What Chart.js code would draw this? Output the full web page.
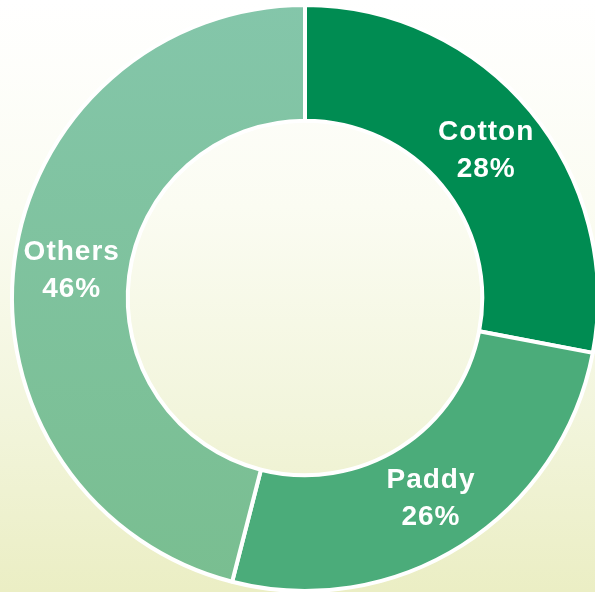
<!DOCTYPE html>
<html>
<head>
<meta charset="utf-8">
<script src="https://cdn.jsdelivr.net/npm/chart.js@4.4.1/dist/chart.umd.min.js"></script>
<style>
  html, body { margin: 0; padding: 0; }
  body {
    width: 595px; height: 592px; overflow: hidden;
    background: linear-gradient(180deg, #ffffff 0%, #fbfcf2 35%, #f2f5dc 70%, #ebeec4 100%);
  }
  #wrap { position: relative; width: 595px; height: 592px; }
</style>
</head>
<body>
<div id="wrap"><canvas id="chart"></canvas></div>
<script>
// crop share of the total, in percent
const crops = ['Cotton', 'Paddy', 'Others'];
const shares = [28, 26, 46];
const sliceColors = ['#008c52', '#4bac7a', null]; // Others gets a gradient

// white two-line labels drawn at each arc's centre
const sliceLabels = {
  id: 'sliceLabels',
  afterDatasetsDraw(chart) {
    const ctx = chart.ctx;
    const meta = chart.getDatasetMeta(0);
    ctx.save();
    ctx.fillStyle = '#ffffff';
    ctx.font = 'bold 28px "Liberation Sans", Arial, sans-serif';
    ctx.letterSpacing = '1px';
    ctx.textAlign = 'center';
    ctx.textBaseline = 'middle';
    meta.data.forEach((arc, i) => {
      const p = arc.tooltipPosition();
      ctx.fillText(crops[i], p.x, p.y - 16);
      ctx.fillText(shares[i] + '%', p.x, p.y + 21);
    });
    ctx.restore();
  }
};

function othersFill(context) {
  const chart = context.chart;
  if (!chart.chartArea) return '#7ec19c';
  const g = chart.ctx.createLinearGradient(0, 0, 0, 592);
  g.addColorStop(0, '#84c6aa');
  g.addColorStop(1, '#79be90');
  return g;
}

new Chart(document.getElementById('chart'), {
  type: 'doughnut',
  data: {
    labels: crops,
    datasets: [{
      data: shares,
      backgroundColor: (c) => c.dataIndex === 2 ? othersFill(c) : sliceColors[c.dataIndex],
      borderColor: '#ffffff',
      borderWidth: 4,
      hoverOffset: 0
    }]
  },
  options: {
    responsive: true,
    maintainAspectRatio: false,
    animation: false,
    radius: 293,
    cutout: '60.5%',
    clip: false,
    layout: { padding: { left: 15, top: 4 } },
    plugins: {
      legend: { display: false },
      tooltip: { enabled: false }
    }
  },
  plugins: [sliceLabels]
});
</script>
</body>
</html>
